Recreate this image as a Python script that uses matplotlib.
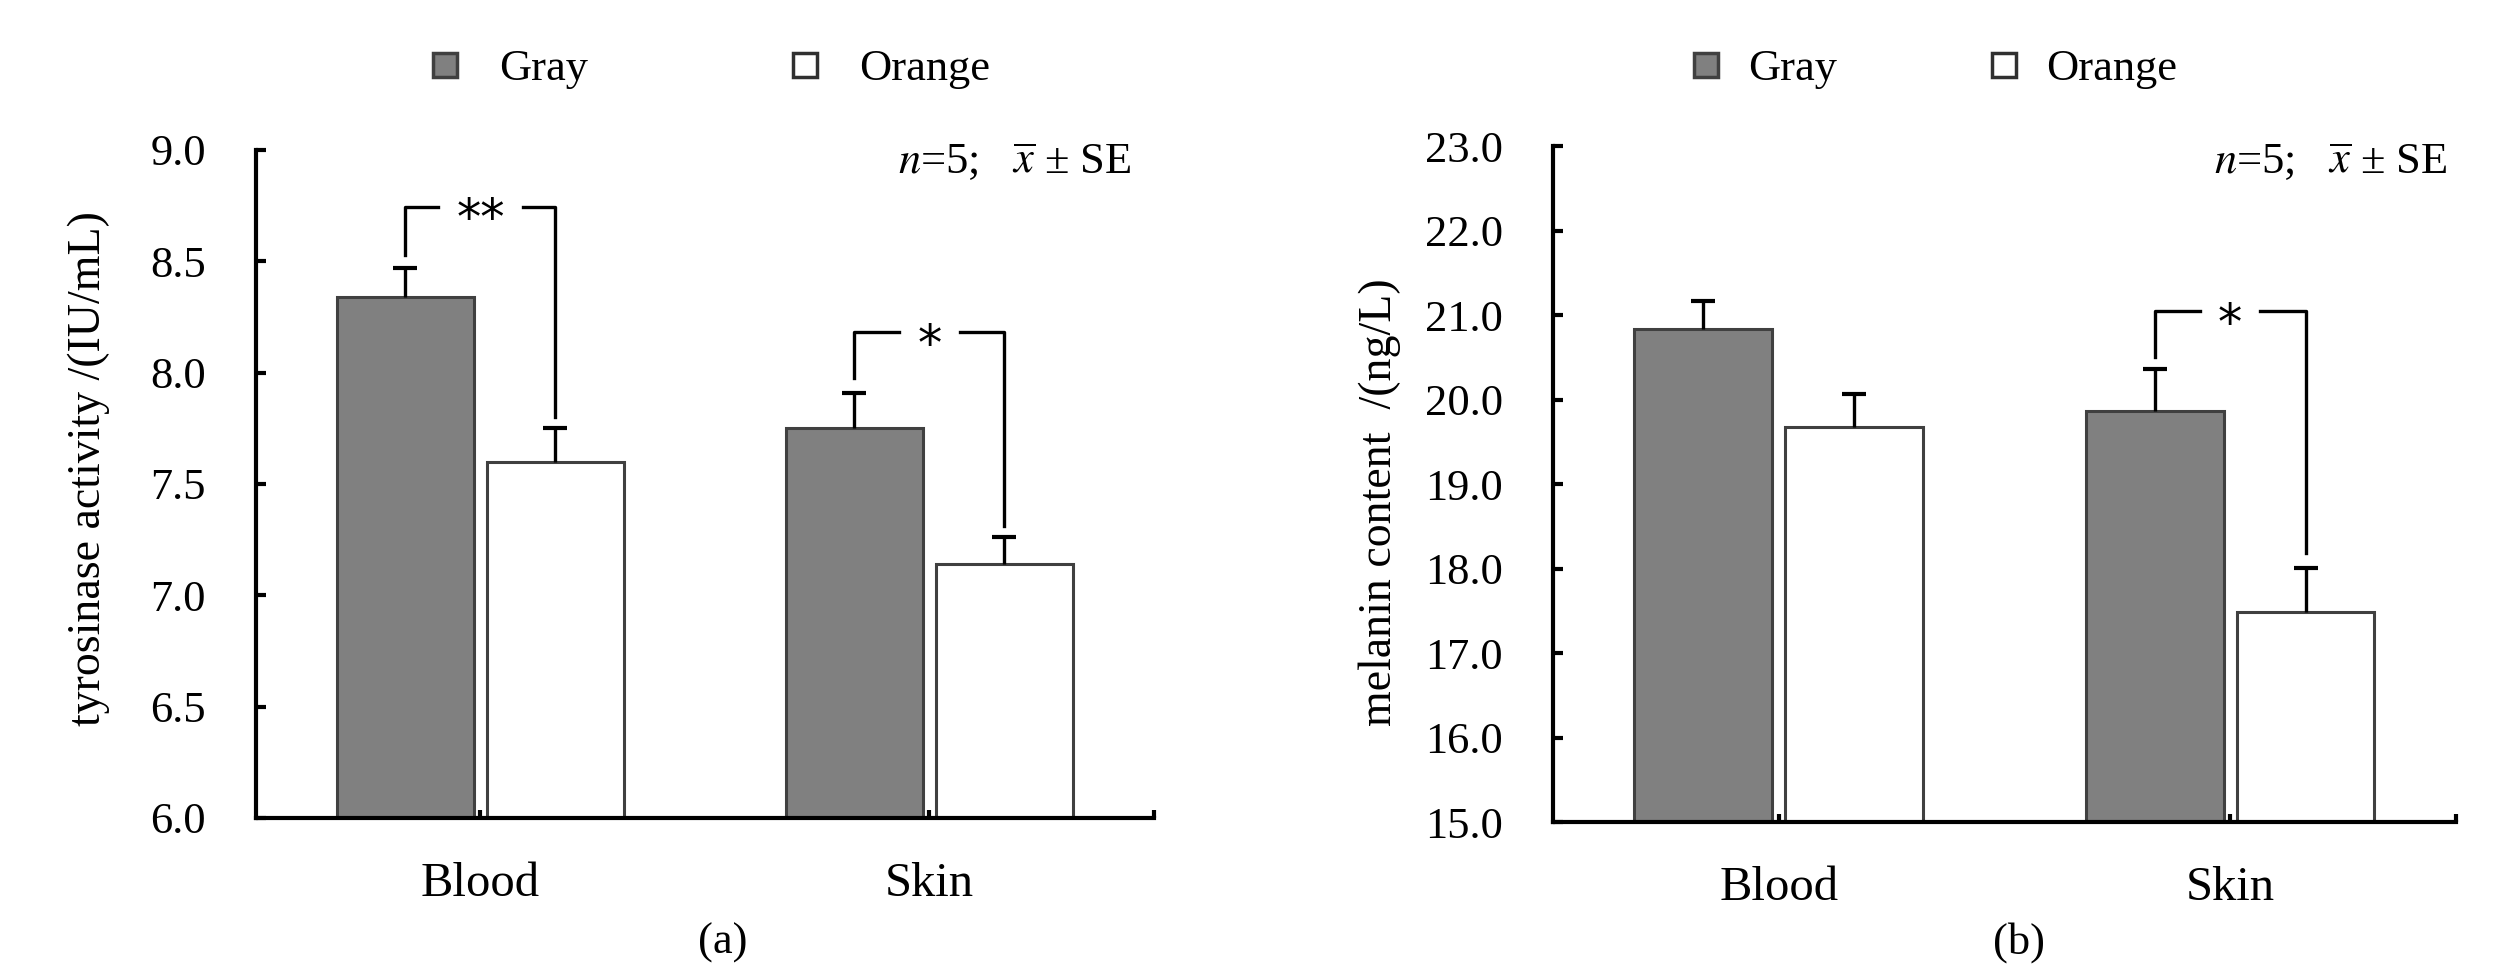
import numpy as np
import matplotlib
matplotlib.use("Agg")
import matplotlib.pyplot as plt
from matplotlib.lines import Line2D

plt.rcParams['font.family'] = ['Liberation Serif', 'DejaVu Serif']
plt.rcParams['mathtext.fontset'] = 'stix'

# data
categories = ["Blood", "Skin"]
groups = ["Gray", "Orange"]

tyr_gray = [8.34, 7.75]
tyr_gray_se = [0.13, 0.16]
tyr_orange = [7.60, 7.14]
tyr_orange_se = [0.15, 0.12]

mel_gray = [20.83, 19.87]
mel_gray_se = [0.34, 0.49]
mel_orange = [19.67, 17.48]
mel_orange_se = [0.39, 0.53]

# significance brackets: (category, bracket y, left end y, right end y, label)
tyr_sig = [(0, 8.745, 8.53, 7.80, "**"), (1, 8.183, 7.975, 7.31, "*")]
mel_sig = [(1, 21.05, 20.50, 18.18, "*")]

fig = plt.figure(figsize=(25.14, 9.64), dpi=100)
ax1 = fig.add_axes([0.1018, 0.1515, 0.3572, 0.6930])
ax2 = fig.add_axes([0.6177, 0.1473, 0.3592, 0.7012])

W = 0.305
OFF = 0.167
EDGE = "#404040"
GRAYC = "#808080"


def panel(ax, gv, gse, ov, ose, sig, ylim, yticks, ylabel, lab_xy, tag, tag_x,
          leg_x, leg_pad, leg_col, note_x, note_y):
    x = np.arange(len(categories))
    ax.bar(x - OFF, gv, W, color=GRAYC, edgecolor=EDGE, linewidth=2.2, zorder=2)
    ax.bar(x + OFF, ov, W, color="white", edgecolor=EDGE, linewidth=2.2, zorder=2)
    # error bars, upper side only
    for xs, v, s in [(x - OFF, gv, gse), (x + OFF, ov, ose)]:
        v = np.array(v); s = np.array(s)
        ax.vlines(xs, v, v + s, color="black", linewidth=2.4, zorder=3)
        ax.plot(xs, v + s, ls="none", marker="_", markersize=17, markeredgewidth=3,
                color="black", zorder=3)
    # brackets
    for c, yb, yl, yr, lab in sig:
        xl, xr = c - OFF, c + OFF
        g = 0.095 if len(lab) == 2 else 0.067
        ax.plot([xl, xl, c - g], [yl, yb, yb], color="black", lw=2.4, zorder=3)
        ax.plot([c + g, xr, xr], [yb, yb, yr], color="black", lw=2.4, zorder=3)
        ax.annotate(lab, (c, yb), xytext=(0, -20), textcoords="offset points",
                    ha="center", va="baseline", fontsize=35, family="DejaVu Sans")

    ax.set_xlim(-0.5, 1.5)
    ax.set_ylim(*ylim)
    ax.set_yticks(yticks)
    ax.set_yticklabels(["%.1f" % t for t in yticks])
    ax.set_xticks(x)
    ax.set_xticklabels(categories)
    ax.set_xticks([1.5], minor=True)
    for s in ["top", "right"]:
        ax.spines[s].set_visible(False)
    for s in ["left", "bottom"]:
        ax.spines[s].set_linewidth(3.0)
    ax.tick_params(axis="y", direction="in", length=7, width=3.0, pad=36, labelsize=32)
    ax.tick_params(axis="x", which="both", direction="in", length=6, width=3.0, pad=32, labelsize=35)

    fig.text(lab_xy[0], lab_xy[1], ylabel, rotation=90, ha="center", va="center", fontsize=33)
    ax.text(note_x, note_y, r"$n$=5;   $\overline{x}$ ± SE", ha="right", va="baseline",
            fontsize=32)
    fig.text(tag_x, 0.022, tag, ha="center", va="center", fontsize=32)

    handles = [Line2D([], [], ls="none", marker="s", markersize=17, markeredgewidth=2.5,
                      markerfacecolor=GRAYC, markeredgecolor=EDGE),
               Line2D([], [], ls="none", marker="s", markersize=17, markeredgewidth=2.5,
                      markerfacecolor="white", markeredgecolor="#303030")]
    fig.legend(handles, groups, loc="center", bbox_to_anchor=(leg_x, 0.928), ncol=2,
               frameon=False, fontsize=32, handlelength=0.6, handletextpad=leg_pad,
               columnspacing=leg_col)


panel(ax1, tyr_gray, tyr_gray_se, tyr_orange, tyr_orange_se, tyr_sig,
      (6.0, 9.0), np.arange(6.0, 9.01, 0.5), "tyrosinase activity /(IU/mL)",
      (0.0354, 1 - 469 / 964), "(a)", 0.2875, 0.2828, 0.9, 4.6,
      1.45, 6.0 + 0.9656 * 3.0)
panel(ax2, mel_gray, mel_gray_se, mel_orange, mel_orange_se, mel_sig,
      (15.0, 23.0), np.arange(15.0, 23.01, 1.0), "melanin content  /(ng/L)",
      (0.5489, 1 - 502 / 964), "(b)", 0.803, 0.7697, 0.65, 3.45,
      1.48, 15.0 + 0.960 * 8.0)

fig.savefig("out.png", dpi=100)
